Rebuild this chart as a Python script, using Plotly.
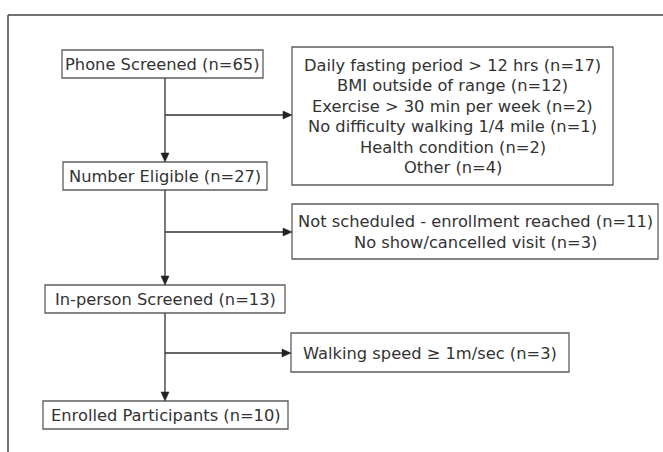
import plotly.graph_objects as go

# ---------------- data ----------------
stages = ["Phone Screened", "Number Eligible", "In-person Screened", "Enrolled Participants"]
stage_n = [65, 27, 13, 10]

excl_reasons_1 = ["Daily fasting period > 12 hrs", "BMI outside of range",
                  "Exercise > 30 min per week", "No difficulty walking 1/4 mile",
                  "Health condition", "Other"]
excl_n_1 = [17, 12, 2, 1, 2, 4]
excl_reasons_2 = ["Not scheduled - enrollment reached", "No show/cancelled visit"]
excl_n_2 = [11, 3]
excl_reasons_3 = ["Walking speed \u2265 1m/sec"]
excl_n_3 = [3]

# ---------------- layout (pixel geometry) ----------------
W, H = 663, 452
stage_boxes = [(62, 263, 50, 78), (63, 267, 162, 190), (45, 285, 285, 313), (43, 288, 401, 429)]
excl_boxes = [(292, 613, 47, 185), (292, 658, 204, 259), (291, 569, 333, 372)]
spine_x = 165
branch_y = [115, 232, 353]
line_gap = 20.4

TEXT = "#333333"
BOX = "#5e5e5e"
FONT = "DejaVu Sans"
FS = 16.3

fig = go.Figure()
shapes = []
annotations = []

# outer frame (top and left edges visible)
shapes.append(dict(type="line", x0=8, x1=W + 5, y0=15, y1=15, line=dict(color="#444444", width=1.5)))
shapes.append(dict(type="line", x0=8, x1=8, y0=15, y1=H + 5, line=dict(color="#444444", width=1.5)))

def box(b):
    x0, x1, y0, y1 = b
    shapes.append(dict(type="rect", x0=x0, x1=x1, y0=y0, y1=y1,
                       line=dict(color=BOX, width=1.3), fillcolor="white"))

def arrowhead(xt, yt, direction):
    L, hw = 9, 4
    if direction == "down":
        p = f"M {xt} {yt} L {xt-hw} {yt-L} L {xt+hw} {yt-L} Z"
    else:
        p = f"M {xt} {yt} L {xt-L} {yt-hw} L {xt-L} {yt+hw} Z"
    shapes.append(dict(type="path", path=p, fillcolor="#222222", line=dict(color="#222222", width=0.5)))

# stage boxes and texts
for i, (lab, n) in enumerate(zip(stages, stage_n)):
    b = stage_boxes[i]
    box(b)
    annotations.append(dict(x=(b[0] + b[1]) / 2, y=(b[2] + b[3]) / 2 + 0.5, text=f"{lab} (n={n})",
                            showarrow=False, xanchor="center", yanchor="middle",
                            font=dict(family=FONT, size=FS, color=TEXT)))

# spine segments with arrowheads
for i in range(3):
    y_from = stage_boxes[i][3]
    y_to = stage_boxes[i + 1][2]
    shapes.append(dict(type="line", x0=spine_x, x1=spine_x, y0=y_from, y1=y_to - 6,
                       line=dict(color="#333333", width=1.3)))
    arrowhead(spine_x, y_to, "down")

# exclusion boxes
excl = [(excl_reasons_1, excl_n_1), (excl_reasons_2, excl_n_2), (excl_reasons_3, excl_n_3)]
for i, (reasons, ns) in enumerate(excl):
    b = excl_boxes[i]
    box(b)
    yb = branch_y[i]
    shapes.append(dict(type="line", x0=spine_x, x1=b[0] - 6, y0=yb, y1=yb,
                       line=dict(color="#333333", width=1.3)))
    arrowhead(b[0], yb, "right")
    k = len(reasons)
    cy = (b[2] + b[3]) / 2
    for j, (r, n) in enumerate(zip(reasons, ns)):
        y = cy + (j - (k - 1) / 2) * line_gap + 0.5
        annotations.append(dict(x=(b[0] + b[1]) / 2, y=y, text=f"{r} (n={n})",
                                showarrow=False, xanchor="center", yanchor="middle",
                                font=dict(family=FONT, size=FS, color=TEXT)))

fig.update_layout(
    width=W, height=H,
    margin=dict(l=0, r=0, t=0, b=0),
    paper_bgcolor="white", plot_bgcolor="white",
    xaxis=dict(range=[0, W], visible=False, fixedrange=True),
    yaxis=dict(range=[H, 0], visible=False, fixedrange=True),
    shapes=shapes, annotations=annotations, showlegend=False,
)

fig.write_html("out.html", config={"displayModeBar": False},
               post_script="document.body.style.margin='0';document.body.style.overflow='hidden';")
